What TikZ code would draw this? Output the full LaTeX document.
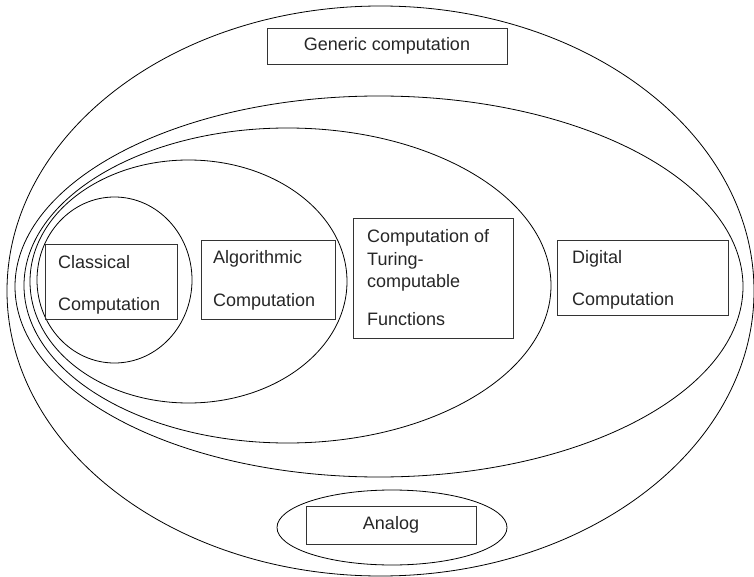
\documentclass[tikz,border=0pt]{standalone}
\usepackage{fontspec}
\setmainfont{Liberation Sans}
\usetikzlibrary{shapes.geometric}
\tikzset{
  ell/.style={draw=black, line width=0.8pt, ellipse, inner sep=0pt},
  box/.style={draw=black!80, line width=0.9pt, rectangle, inner sep=0pt},
  txt/.style={text=black!85, inner sep=0pt, font=\fontsize{18}{22}\selectfont},
  lbl/.style={txt, anchor=base west}
}
\begin{document}
\begin{tikzpicture}[x=1pt, y=-1pt]
\useasboundingbox (0,0) rectangle (754,577);
% containers
\node[ell, minimum width=747pt, minimum height=570pt] (generic) at (380.5,291) {};
\node[ell, minimum width=728pt, minimum height=381pt] (digital) at (379,286.5) {};
\node[ell, minimum width=527pt, minimum height=315pt] (turing) at (287.5,285.5) {};
\node[ell, minimum width=317pt, minimum height=243pt] (algo) at (188.5,281.5) {};
\node[ell, minimum width=155pt, minimum height=166pt] (classical) at (114.5,280) {};
\node[ell, minimum width=230pt, minimum height=75pt] (analog) at (392,527.5) {};
% boxes
\node[box, txt, draw=black!80, minimum width=240pt, minimum height=36pt] (genericbox) at (387,46) {Generic computation};
\node[box, txt, draw=black!80, minimum width=170pt, minimum height=38pt] (analogbox) at (391,525) {Analog};
\node[box, minimum width=132pt, minimum height=75pt] (classicalbox) at (111,281.5) {};
\node[box, minimum width=134pt, minimum height=79pt] (algobox) at (268,279.5) {};
\node[box, minimum width=160pt, minimum height=120pt] (turingbox) at (433,278) {};
\node[box, minimum width=171pt, minimum height=75pt] (digitalbox) at (642.5,277.5) {};
% labels
\node[lbl] (classicalA) at (58,268) {Classical};
\node[lbl] (classicalB) at (58,310) {Computation};
\node[lbl] (algoA) at (213,263) {Algorithmic};
\node[lbl] (algoB) at (213,306) {Computation};
\node[lbl] (turingA) at (367,243) {Computation of};
\node[lbl] (turingB) at (367,265) {Turing-};
\node[lbl] (turingC) at (367,287) {computable};
\node[lbl] (turingD) at (367,325) {Functions};
\node[lbl] (digitalA) at (572,263) {Digital};
\node[lbl] (digitalB) at (572,305) {Computation};
\end{tikzpicture}
\end{document}
